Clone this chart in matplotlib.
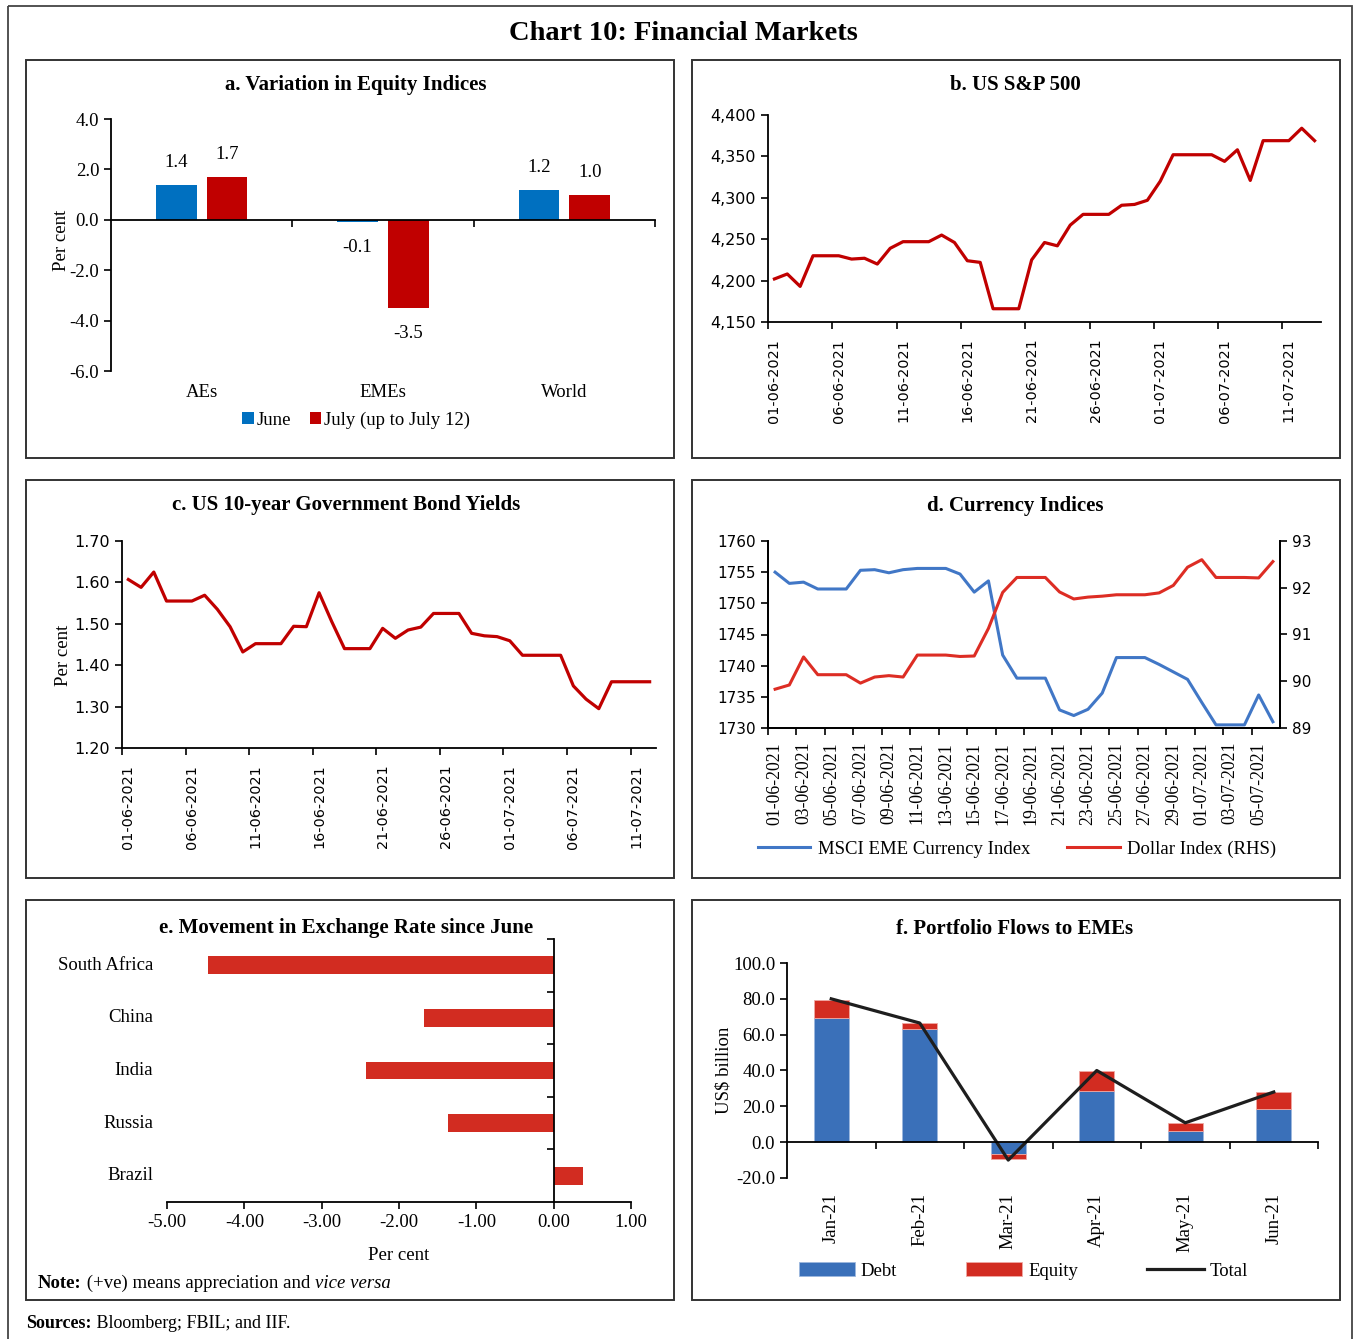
import numpy as np
import pandas as pd
import matplotlib
matplotlib.use('Agg')
import matplotlib.pyplot as plt
from matplotlib.patches import Rectangle
from matplotlib.ticker import FormatStrFormatter, FuncFormatter

# ---- data -------------------------------------------------------------
eq_cats = ['AEs', 'EMEs', 'World']
eq_june = [1.4, -0.1, 1.2]
eq_july = [1.7, -3.5, 1.0]

# US S&P 500, daily 01-06-2021 to 13-07-2021
sp500 = [4202, 4208, 4193, 4230, 4230, 4230, 4226, 4227, 4220, 4239,
         4247, 4247, 4247, 4255, 4246, 4224, 4222, 4166, 4166, 4166,
         4225, 4246, 4242, 4267, 4280, 4280, 4280, 4291, 4292, 4297,
         4320, 4352, 4352, 4352, 4352, 4344, 4358, 4321, 4369, 4369,
         4369, 4384, 4369]

# US 10-year yields, daily 01-06-2021 to 12-07-2021
ust10 = [1.607, 1.588, 1.625, 1.555, 1.555, 1.555, 1.569, 1.535, 1.493, 1.432,
         1.452, 1.452, 1.452, 1.494, 1.493, 1.575, 1.505, 1.440, 1.440, 1.440,
         1.489, 1.465, 1.485, 1.492, 1.525, 1.525, 1.525, 1.477, 1.471, 1.469,
         1.459, 1.424, 1.424, 1.424, 1.424, 1.350, 1.318, 1.295, 1.360, 1.360,
         1.360, 1.360]

# currency indices, daily 01-06-2021 to 06-07-2021
msci_eme = [1755.0, 1753.2, 1753.4, 1752.3, 1752.3, 1752.3, 1755.3, 1755.4, 1754.9, 1755.4,
            1755.6, 1755.6, 1755.6, 1754.7, 1751.8, 1753.6, 1741.7, 1738.0, 1738.0, 1738.0,
            1732.9, 1732.0, 1733.0, 1735.6, 1741.3, 1741.3, 1741.3, 1740.2, 1739.0, 1737.8,
            1734.1, 1730.5, 1730.5, 1730.5, 1735.3, 1731.0]
dollar_idx = [89.83, 89.92, 90.52, 90.14, 90.14, 90.14, 89.96, 90.09, 90.12, 90.09,
              90.56, 90.56, 90.56, 90.53, 90.54, 91.13, 91.90, 92.22, 92.22, 92.22,
              91.91, 91.76, 91.80, 91.82, 91.85, 91.85, 91.85, 91.89, 92.05, 92.44,
              92.60, 92.22, 92.22, 92.22, 92.21, 92.56]

fx_countries = ['South Africa', 'China', 'India', 'Russia', 'Brazil']
fx_change = [-4.47, -1.68, -2.43, -1.37, 0.38]

pf_months = ['Jan-21', 'Feb-21', 'Mar-21', 'Apr-21', 'May-21', 'Jun-21']
pf_debt = [69.1, 63.2, -6.7, 28.3, 6.3, 18.6]
pf_equity = [10.5, 3.2, -2.8, 11.5, 4.3, 9.3]
pf_total = [80.0, 66.5, -10.0, 40.0, 10.8, 28.0]

# ---- figure -------------------------------------------------------------
W, H = 1358, 1339
SERIF = 'Liberation Serif'
SANS = 'DejaVu Sans'
FS = 13.5
plt.rcParams['font.family'] = SERIF
plt.rcParams['font.size'] = FS
plt.rcParams['axes.linewidth'] = 1.3
plt.rcParams['xtick.major.width'] = 1.2
plt.rcParams['ytick.major.width'] = 1.2
plt.rcParams['xtick.minor.width'] = 1.2
plt.rcParams['ytick.minor.width'] = 1.2

fig = plt.figure(figsize=(W / 100, H / 100), dpi=100)
bg = fig.add_axes([0, 0, 1, 1])
bg.set_xlim(0, W)
bg.set_ylim(H, 0)
bg.axis('off')


def box(l, t, r, b):
    return fig.add_axes([l / W, 1 - b / H, (r - l) / W, (b - t) / H])


def fpos(x, y):
    return (x / W, 1 - y / H)


# frames
bg.add_patch(Rectangle((8, 6), 1344, 1345, fill=False, ec='#444444', lw=1.3))
for l, t in [(26, 60), (692, 60), (26, 480), (692, 480), (26, 900), (692, 900)]:
    bg.add_patch(Rectangle((l, t), 648, 398 if t < 900 else 400, fill=False, ec='#333333', lw=1.4))

bg.text(683, 34, 'Chart 10: Financial Markets', ha='center', va='center',
        fontsize=20.5, fontweight='bold')

title_kw = dict(ha='center', va='center', fontsize=15, fontweight='bold')
bg.text(356, 85, 'a. Variation in Equity Indices', **title_kw)
bg.text(1015, 85, 'b. US S&P 500', **title_kw)
bg.text(346, 505, 'c. US 10-year Government Bond Yields', **title_kw)
bg.text(1015, 506, 'd. Currency Indices', **title_kw)
bg.text(346, 928, 'e. Movement in Exchange Rate since June', **title_kw)
bg.text(1015, 929, 'f. Portfolio Flows to EMEs', **title_kw)

BLUE_A, RED_A = '#0070C0', '#C00000'

# ---- a. equity indices --------------------------------------------------
ax = box(111, 119, 655, 371)
x = np.arange(len(eq_cats))
ax.bar(x - 0.14, eq_june, 0.225, color=BLUE_A, label='June')
ax.bar(x + 0.14, eq_july, 0.225, color=RED_A, label='July (up to July 12)')
for xs, vals in [(x - 0.14, eq_june), (x + 0.14, eq_july)]:
    for xi, v in zip(xs, vals):
        ax.annotate(f'{v:.1f}', (xi, v), xytext=(0, 16 if v > 0 else -18),
                    textcoords='offset points', ha='center', va='center')
ax.set_xlim(-0.5, 2.5)
ax.set_ylim(-6, 4)
ax.set_yticks(np.arange(-6, 4.1, 2))
ax.yaxis.set_major_formatter(FormatStrFormatter('%.1f'))
ax.spines['bottom'].set_position(('data', 0))
ax.spines[['top', 'right']].set_visible(False)
ax.set_xticks([0.5, 1.5, 2.5])
ax.set_xticklabels([])
ax.tick_params(direction='out', length=5)
for i, c in enumerate(eq_cats):
    ax.text(i, -0.087, c, transform=ax.get_xaxis_transform(), ha='center', va='center')
bg.text(62, 240, 'Per cent', rotation=90, ha='center', va='center')
fig.legend(handles=ax.get_legend_handles_labels()[0], loc='center', bbox_to_anchor=fpos(356, 420),
           ncol=2, frameon=False, handlelength=0.6, handleheight=0.6, handletextpad=0.15,
           columnspacing=1.0, fontsize=FS)


def date_axis(ax, n, step, start='2021-06-01'):
    dates = pd.date_range(start, periods=n, freq='D')
    ax.set_xlim(-0.5, n - 0.5)
    major = np.arange(0, n, step)
    ax.set_xticks(major)
    ax.set_xticklabels([dates[i].strftime('%d-%m-%Y') for i in major], rotation=90,
                       fontfamily=SANS, fontsize=10.4)
    ax.set_xticks(major - 0.5, minor=True)
    ax.tick_params(axis='x', which='major', length=0, pad=12)
    ax.tick_params(axis='x', which='minor', length=5, direction='out')
    ax.tick_params(axis='y', direction='out', length=5, labelsize=11.5)
    for lab in ax.get_yticklabels():
        lab.set_fontfamily(SANS)
    ax.spines[['top', 'right']].set_visible(False)


# ---- b. S&P 500 ---------------------------------------------------------
ax = box(768, 115, 1321, 322)
ax.plot(np.arange(len(sp500)), sp500, color=RED_A, lw=2.3)
ax.set_ylim(4150, 4400)
ax.set_yticks(np.arange(4150, 4401, 50))
ax.yaxis.set_major_formatter(FuncFormatter(lambda v, p: f'{v:,.0f}'))
date_axis(ax, len(sp500), 5)

# ---- c. US 10-year ------------------------------------------------------
ax = box(122, 541, 656, 748)
ax.plot(np.arange(len(ust10)), ust10, color=RED_A, lw=2.3)
ax.set_ylim(1.2, 1.7)
ax.set_yticks(np.arange(1.2, 1.71, 0.1))
ax.yaxis.set_major_formatter(FormatStrFormatter('%.2f'))
date_axis(ax, len(ust10), 5)
bg.text(63, 655, 'Per cent', rotation=90, ha='center', va='center')

# ---- d. currency indices ------------------------------------------------
BLUE_D, RED_D = '#4177C6', '#DD2D24'
ax = box(768, 541, 1280, 728)
n = len(msci_eme)
ax.plot(np.arange(n), msci_eme, color=BLUE_D, lw=2.2, label='MSCI EME Currency Index')
ax2 = ax.twinx()
ax2.plot(np.arange(n), dollar_idx, color=RED_D, lw=2.2, label='Dollar Index (RHS)')
ax.set_ylim(1730, 1760)
ax.set_yticks(np.arange(1730, 1761, 5))
ax2.set_ylim(89, 93)
ax2.set_yticks(np.arange(89, 93.1, 1))
dates = pd.date_range('2021-06-01', periods=n, freq='D')
ax.set_xlim(-0.5, n - 0.5)
major = np.arange(0, n, 2)
ax.set_xticks(major)
ax.set_xticklabels([dates[i].strftime('%d-%m-%Y') for i in major], rotation=90, fontsize=12.8)
ax.set_xticks(major - 0.5, minor=True)
ax.tick_params(axis='x', which='major', length=0, pad=10)
ax.tick_params(axis='x', which='minor', length=5, direction='out')
for a in (ax, ax2):
    a.tick_params(axis='y', direction='out', length=5)
    a.spines['top'].set_visible(False)
for lab in ax.get_yticklabels() + ax2.get_yticklabels():
    lab.set_fontfamily(SANS)
    lab.set_fontsize(11)
fig.legend(handles=[ax.get_lines()[0], ax2.get_lines()[0]], loc='center',
           bbox_to_anchor=fpos(1017, 849), ncol=2, frameon=False, handlelength=2.8,
           handletextpad=0.4, columnspacing=2.0, fontsize=FS)

# ---- e. exchange rate ---------------------------------------------------
ax = box(167, 939, 631, 1202)
y = np.arange(len(fx_countries))
ax.barh(y, fx_change, height=0.34, color='#D22C21')
ax.set_ylim(len(fx_countries) - 0.5, -0.5)
ax.set_xlim(-5, 1)
ax.set_xticks(np.arange(-5, 1.1, 1))
ax.xaxis.set_major_formatter(FormatStrFormatter('%.2f'))
ax.spines['left'].set_position(('data', 0))
ax.spines[['top', 'right']].set_visible(False)
ax.set_yticks(np.arange(-0.5, len(fx_countries) - 0.9, 1))
ax.set_yticklabels([])
ax.tick_params(direction='out', length=5)
for yi, c in zip(y, fx_countries):
    ax.text(-0.03, yi, c, transform=ax.get_yaxis_transform(), ha='right', va='center')
bg.text(399, 1256, 'Per cent', ha='center', va='center')
t = bg.text(38, 1283, 'Note:', ha='left', va='center', fontweight='bold')
t = bg.annotate(' (+ve) means appreciation and ', xy=(1, 0), xycoords=t, va='bottom')
bg.annotate('vice versa', xy=(1, 0), xycoords=t, va='bottom', style='italic')

# ---- f. portfolio flows -------------------------------------------------
BLUE_F, RED_F = '#3A70B9', '#D22C21'
ax = box(787, 963, 1318, 1178)
x = np.arange(len(pf_months))
ax.bar(x, pf_debt, 0.4, color=BLUE_F, ec='#9DB8DE', lw=0.6, label='Debt')
ax.bar(x, pf_equity, 0.4, bottom=pf_debt, color=RED_F, ec='#F0A9A4', lw=0.6, label='Equity')
ax.plot(x, pf_total, color='#1E1E1E', lw=2.3, label='Total')
ax.set_xlim(-0.5, 5.5)
ax.set_ylim(-20, 100)
ax.set_yticks(np.arange(-20, 101, 20))
ax.yaxis.set_major_formatter(FormatStrFormatter('%.1f'))
ax.spines['bottom'].set_position(('data', 0))
ax.spines[['top', 'right']].set_visible(False)
ax.set_xticks(x + 0.5)
ax.set_xticklabels([])
ax.tick_params(direction='out', length=5)
for i, m in enumerate(pf_months):
    ax.text(i, -0.07, m, transform=ax.get_xaxis_transform(), rotation=90, ha='center', va='top')
bg.text(724, 1070, 'US$ billion', rotation=90, ha='center', va='center')
h, l = ax.get_legend_handles_labels()
order = [1, 2, 0]
fig.legend([h[i] for i in order], [l[i] for i in order], loc='center',
           bbox_to_anchor=fpos(1023, 1271), ncol=3, frameon=False, handlelength=3.0,
           handleheight=0.7, handletextpad=0.3, columnspacing=3.7, fontsize=FS)

# ---- sources ------------------------------------------------------------
t = bg.text(26, 1324, 'Sources:', ha='left', va='center', fontweight='bold', fontsize=13)
bg.annotate(' Bloomberg; FBIL; and IIF.', xy=(1, 0), xycoords=t, va='bottom', fontsize=13)

fig.savefig('out.png', dpi=100)
